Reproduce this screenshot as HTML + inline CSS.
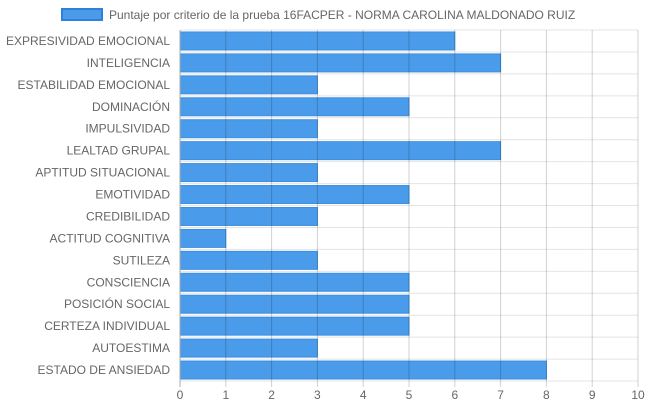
<!DOCTYPE html>
<html><head><meta charset="utf-8"><style>
html,body{margin:0;padding:0;background:#fff;}
svg{display:block;font-family:"Liberation Sans",Arial,sans-serif;}
</style></head><body>
<svg id="chart" width="648" height="410"></svg>
<script>
const categories=["EXPRESIVIDAD EMOCIONAL","INTELIGENCIA","ESTABILIDAD EMOCIONAL","DOMINACIÓN","IMPULSIVIDAD","LEALTAD GRUPAL","APTITUD SITUACIONAL","EMOTIVIDAD","CREDIBILIDAD","ACTITUD COGNITIVA","SUTILEZA","CONSCIENCIA","POSICIÓN SOCIAL","CERTEZA INDIVIDUAL","AUTOESTIMA","ESTADO DE ANSIEDAD"];
const values=[6,7,3,5,3,7,3,5,3,1,3,5,5,5,3,8];
const xTicks=[0,1,2,3,4,5,6,7,8,9,10];
const legendLabel="Puntaje por criterio de la prueba 16FACPER - NORMA CAROLINA MALDONADO RUIZ";

const NS="http://www.w3.org/2000/svg";
const svg=document.getElementById('chart');
const L=180,R=638,T=30,B=381,xMax=10;
const band=(B-T)/categories.length;
const x=v=>L+(R-L)*v/xMax;
const yc=i=>T+band*(i+0.5);
function mk(tag,attrs,parent){const e=document.createElementNS(NS,tag);for(const k in attrs)e.setAttribute(k,attrs[k]);(parent||svg).appendChild(e);return e;}

// horizontal grid
for(let i=0;i<=categories.length;i++){
  const g=mk('line',{x1:L,x2:R,y1:T+band*i,y2:T+band*i,stroke:'#e4e4e4','stroke-width':1});
  
  
}
// bars
values.forEach((v,i)=>{
  const h=band*0.82;
  const r=mk('rect',{x:x(0),y:yc(i)-h/2,width:x(v)-x(0),height:h,fill:'#4a9be9',stroke:'#3d8fe0','stroke-width':1});
  
  
  const t=mk('text',{x:L-10,y:yc(i)+4,'text-anchor':'end','font-size':12,fill:'#666'});
  t.textContent=categories[i];
  
  
});
// vertical grid over bars
xTicks.forEach(v=>{
  const g=mk('line',{x1:x(v),x2:x(v),y1:T,y2:B+6,stroke:v===0?'#aaa':'rgba(0,0,0,0.18)','stroke-width':1});
  
  
  const t=mk('text',{x:x(v),y:B+18,'text-anchor':'middle','font-size':12,fill:'#666'});
  t.textContent=v;
  
  
});
// legend
const lg=mk('g',{});


mk('rect',{x:62,y:9,width:40,height:11,fill:'#4a9be9',stroke:'#2f80d8','stroke-width':2},lg);
const lt=mk('text',{x:109,y:19,'font-size':12,fill:'#666'},lg);
lt.textContent=legendLabel;


</script>
</body></html>
